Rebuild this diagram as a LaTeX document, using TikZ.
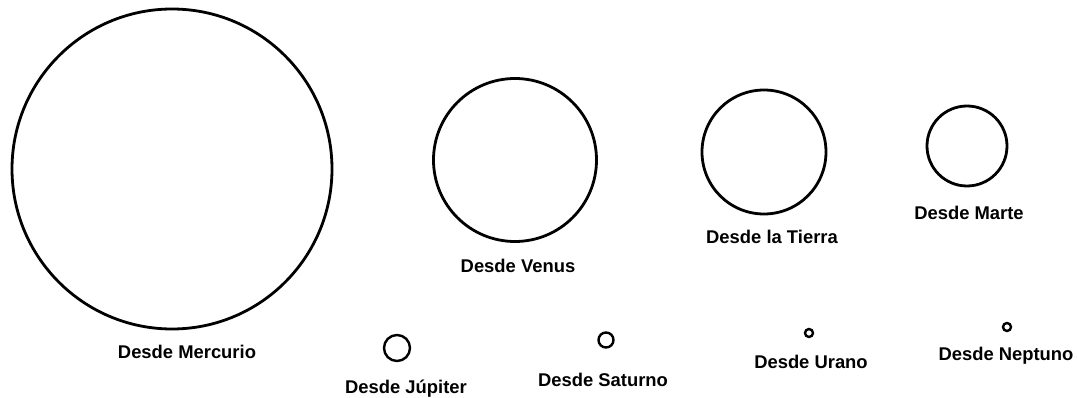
\documentclass[tikz,border=0pt]{standalone}
\usepackage{fontspec}
\setmainfont{Liberation Sans}
\usetikzlibrary{positioning}

\tikzset{
  planet/.style={draw, circle, inner sep=0pt, line width=2.8pt},
  caption/.style={anchor=base, inner sep=0pt, font=\bfseries\fontsize{18.4}{21}\selectfont}
}

\begin{document}
\begin{tikzpicture}[x=1pt, y=-1pt]
  \useasboundingbox (0,0) rectangle (1077,398);
  % discos vistos desde cada planeta
  \node[planet, minimum size=320pt] (mercurio) at (172,169) {};
  \node[planet, minimum size=163pt] (venus) at (515,160) {};
  \node[planet, minimum size=124pt] (tierra) at (764,152) {};
  \node[planet, minimum size=80pt] (marte) at (967,146) {};
  \node[planet, line width=2.4pt, minimum size=26pt] (jupiter) at (397,348) {};
  \node[planet, line width=2.4pt, minimum size=15pt] (saturno) at (606,340) {};
  \node[planet, line width=2.4pt, minimum size=8pt] (urano) at (809,333) {};
  \node[planet, line width=2.4pt, minimum size=8pt] (neptuno) at (1007,327) {};

  % etiquetas
  \node[caption] (lmercurio) at (187,358) {Desde Mercurio};
  \node[caption] (lvenus) at (518,273) {Desde Venus};
  \node[caption] (ltierra) at (772,244) {Desde la Tierra};
  \node[caption] (lmarte) at (969,220) {Desde Marte};
  \node[caption] (ljupiter) at (406,393) {Desde Júpiter};
  \node[caption] (lsaturno) at (603,386) {Desde Saturno};
  \node[caption] (lurano) at (811,368) {Desde Urano};
  \node[caption] (lneptuno) at (1006,360) {Desde Neptuno};
\end{tikzpicture}
\end{document}
